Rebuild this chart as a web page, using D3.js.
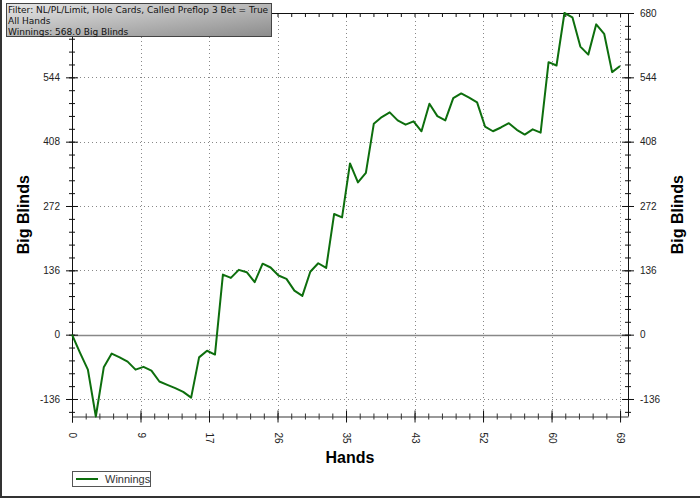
<!DOCTYPE html>
<html><head><meta charset="utf-8">
<script src="https://cdn.jsdelivr.net/npm/d3@7/dist/d3.min.js"></script>
<style>
body{margin:0;background:#fff;}
svg{display:block;font-family:"Liberation Sans",Arial,sans-serif;}
</style></head>
<body>
<svg id="chart" width="700" height="498"></svg>
<script>
const hands = d3.range(0, 70);
const winnings = [0,-38,-74,-173,-69,-40,-48,-57,-74,-68,
  -76,-99,-106,-113,-121,-133,-48,-34,-42,127,
  120,137,132,111,150,142,125,118,93,82,
  133,151,141,255,248,362,322,342,446,460,
  470,453,444,451,430,488,462,453,500,510,
  501,491,440,430,438,447,433,423,434,427,
  576,569,680,671,609,592,656,636,555,568];
const yTicks = [-136,0,136,272,408,544,680];
const xTicks = [0,8.625,17.25,25.875,34.5,43.125,51.75,60.375,69];
const infoLines = ["Filter: NL/PL/Limit, Hole Cards, Called Preflop 3 Bet = True","All Hands","Winnings: 568.0 Big Blinds"];
const seriesName = "Winnings";

const svg = d3.select("#chart");
const L=72, R=628, T=13, B=416.5;
const x = d3.scaleLinear().domain([0,70]).range([L,R]);
const y = d3.scaleLinear().domain([-173,680]).range([B,T]);
const xMinor = d3.range(0, 70.01, 1.725);
const yMinor = d3.range(-163.2, 680.1, 27.2);

// outer frame (left & bottom)
svg.append("line").attr("x1",1).attr("x2",1).attr("y1",0).attr("y2",498).attr("stroke","#333").attr("stroke-width",2);
svg.append("line").attr("x1",0).attr("x2",700).attr("y1",497).attr("y2",497).attr("stroke","#333").attr("stroke-width",2);

// grid
const g = svg.append("g");
g.selectAll(".gx").data(xTicks).join("line")
  .attr("x1",d=>Math.round(x(d))+0.5).attr("x2",d=>Math.round(x(d))+0.5).attr("y1",T).attr("y2",B)
  .attr("stroke","#888").attr("stroke-dasharray","1,3");
g.selectAll(".gy").data(yTicks).join("line")
  .attr("x1",L).attr("x2",R).attr("y1",d=>Math.round(y(d))+0.5).attr("y2",d=>Math.round(y(d))+0.5)
  .attr("stroke","#888").attr("stroke-dasharray","1,3");
// zero line
svg.append("line").attr("x1",L).attr("x2",R).attr("y1",Math.round(y(0))+0.5).attr("y2",Math.round(y(0))+0.5)
  .attr("stroke","#888").attr("stroke-width",1.5);

// bottom axis
const bx = svg.append("g").attr("transform",`translate(0,${B})`);
bx.call(d3.axisBottom(x).tickValues(xMinor).tickSize(0).tickFormat(""));
bx.select(".domain").attr("stroke","#999").attr("stroke-width",2);
bx.selectAll(".tick line").attr("y1",-3).attr("y2",3).attr("stroke","#333");
const bxM = svg.append("g").attr("transform",`translate(0,${B})`);
bxM.call(d3.axisBottom(x).tickValues(xTicks).tickSize(6).tickFormat(d=>Math.round(d)));
bxM.select(".domain").remove();
bxM.selectAll(".tick line").attr("y1",-6).attr("y2",6).attr("stroke","#111");
bxM.selectAll(".tick text").attr("transform","translate(0,16) rotate(90)").attr("y",0).attr("x",0)
  .attr("dy","0.35em").attr("text-anchor","start").attr("font-size",10).attr("fill","#222");

// top axis (minor ticks inward)
const tx = svg.append("g").attr("transform",`translate(0,${T})`);
tx.call(d3.axisTop(x).tickValues(xMinor).tickSize(-4).tickFormat(""));
tx.select(".domain").attr("d",`M${L},0.5H${R+5}`).attr("stroke","#111");
tx.selectAll(".tick line").attr("stroke","#111");

// left / right axes
function yAxis(side){
  const ax = side==="left" ? d3.axisLeft(y) : d3.axisRight(y);
  const xPos = side==="left" ? L : R;
  const gm = svg.append("g").attr("transform",`translate(${xPos},0)`);
  gm.call(ax.tickValues(yMinor).tickSize(0).tickFormat(""));
  gm.select(".domain").attr("d",`M0.5,${T}V${B+ (side==="left"?6:0)}`).attr("stroke","#111");
  gm.selectAll(".tick line").attr("x1",-3).attr("x2",3).attr("stroke","#111");
  const gM = svg.append("g").attr("transform",`translate(${xPos},0)`);
  gM.call(ax.tickValues(yTicks).tickSize(0).tickFormat(d=> (side==="left" && d===680) ? "" : d));
  gM.select(".domain").remove();
  gM.selectAll(".tick line").attr("x1",-6).attr("x2",6).attr("stroke","#111");
  gM.selectAll(".tick text").attr("x", side==="left"?-12:12).attr("font-size",10).attr("fill","#222");
}
yAxis("left"); yAxis("right");

// line
svg.append("path").datum(hands)
  .attr("fill","none").attr("stroke","#0d6e0d").attr("stroke-width",2).attr("stroke-linejoin","round")
  .attr("d", d3.line().x(i=>x(i)).y(i=>y(winnings[i])));

// axis titles
svg.append("text").attr("transform",`translate(29,${(T+B)/2}) rotate(-90)`).attr("text-anchor","middle")
  .attr("font-size",16).attr("font-weight","bold").attr("fill","#000").text("Big Blinds");
svg.append("text").attr("transform",`translate(683,${(T+B)/2}) rotate(-90)`).attr("text-anchor","middle")
  .attr("font-size",16).attr("font-weight","bold").attr("fill","#000").text("Big Blinds");
svg.append("text").attr("x",(L+R)/2).attr("y",463).attr("text-anchor","middle")
  .attr("font-size",16).attr("font-weight","bold").attr("fill","#000").text("Hands");

// info box
const defs = svg.append("defs");
const grad = defs.append("linearGradient").attr("id","ig").attr("x1","0").attr("y1","0").attr("x2","1").attr("y2","1");
grad.append("stop").attr("offset","0%").attr("stop-color","#e6e6e6");
grad.append("stop").attr("offset","100%").attr("stop-color","#8c8c8c");
const info = svg.append("g");
const tt = info.append("text").attr("font-size",9).attr("font-family","'DejaVu Sans',Verdana,sans-serif").attr("fill","#111");
infoLines.forEach((s,i)=>tt.append("tspan").attr("x",8).attr("y",13.3+i*10.6).text(s));
const bw = tt.node().getBBox().width;
info.insert("rect","text").attr("x",6.5).attr("y",3.5).attr("width",Math.ceil(bw)+4).attr("height",33)
  .attr("fill","url(#ig)").attr("stroke","#444");

// legend
const lg = svg.append("g");
lg.append("rect").attr("x",72.5).attr("y",471.5).attr("width",78).attr("height",15).attr("fill","#fff").attr("stroke","#555");
lg.append("line").attr("x1",76).attr("x2",98).attr("y1",479).attr("y2",479).attr("stroke","#0d6e0d").attr("stroke-width",2);
lg.append("text").attr("x",105).attr("y",483).attr("font-size",11).attr("fill","#333").text(seriesName);
</script>
</body></html>
